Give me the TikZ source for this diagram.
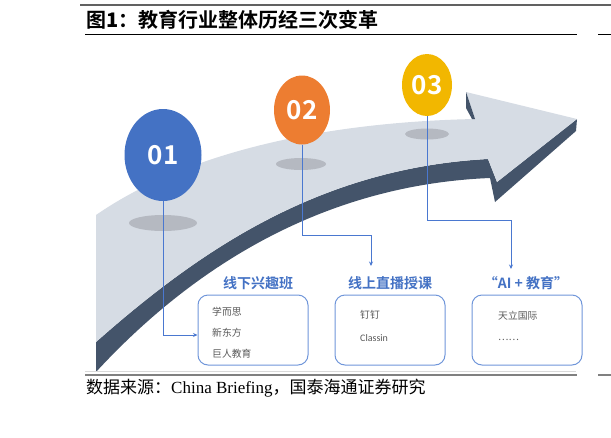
\documentclass[tikz,border=0pt]{standalone}
\usepackage{fontspec}
\setmainfont{Liberation Serif}
\newfontfamily\cjk{Noto Sans CJK SC}
\newfontfamily\cjkb{Noto Sans CJK SC Bold}
\newfontfamily\carlito{Carlito}
\usetikzlibrary{shapes.geometric,arrows.meta}
\definecolor{face}{HTML}{D6DCE4}
\definecolor{side}{HTML}{44546A}
\definecolor{dropgray}{HTML}{B5B9C1}
\definecolor{blueone}{HTML}{4472C4}
\definecolor{orangetwo}{HTML}{ED7D31}
\definecolor{goldthree}{HTML}{F2B700}
\definecolor{linkblue}{HTML}{4A78D0}
\definecolor{cardblue}{HTML}{7096DA}
\definecolor{itemgray}{HTML}{595959}
\tikzset{
	stage/.style={ellipse, inner sep=0pt, text=white, font=\cjkb\fontsize{26}{26}\selectfont},
	head/.style={text=blueone, inner sep=0pt, font=\cjkb\fontsize{14}{14}\selectfont},
	card/.style={draw=cardblue, line width=1pt, fill=white, rounded corners=10pt, minimum width=110pt, minimum height=70pt},
	item/.style={anchor=west, inner sep=0pt, text=itemgray, font=\cjk\fontsize{9.8}{9.8}\selectfont},
	link/.style={draw=linkblue, line width=0.8pt, -{Stealth[length=4.5pt,width=4pt]}}
}
\begin{document}
\begin{tikzpicture}[x=1pt,y=-1pt]
	\useasboundingbox (0,0) rectangle (611,437);
	
	\draw[line width=2pt, color=black!62] (80,5) -- (611,5);
	\node[anchor=base west, inner sep=0pt] (title) at (86,27)
		{\cjkb\fontsize{20}{20}\selectfont 图{\bfseries 1}：教育行业整体历经三次变革};
	\draw[line width=1pt] (85,34) -- (577,34);
	\draw[line width=1pt] (598,34) -- (611,34);
	
	\begin{scope}
		\clip (96,40) rectangle (611,371);
		\fill[side] (96,342) .. controls (200,250) and (320,168) .. (488,159) -- (497,182)
			-- (577,119) -- (576,131) -- (495,202) -- (490,178)
			.. controls (320,185) and (190,270) .. (96,372) -- cycle;
		\fill[face] (96,215) .. controls (190,150) and (330,122) .. (475,119) -- (466,92)
			-- (577,119) -- (497,182) -- (488,159)
			.. controls (320,168) and (200,250) .. (96,342) -- cycle;
		\fill[side] (466,92) -- (466,108) -- (472,119) -- (475,119) -- cycle;
	\end{scope}
	
	\fill[dropgray] (163,223) ellipse [x radius=34pt, y radius=8pt];
	\fill[dropgray] (301,164) ellipse [x radius=25pt, y radius=6pt];
	\fill[dropgray] (427,134) ellipse [x radius=22pt, y radius=5.5pt];
	
	\node[stage, fill=blueone, minimum width=77pt, minimum height=92pt] (c1) at (163,155) {01};
	\node[stage, fill=orangetwo, minimum width=56pt, minimum height=69pt] (c2) at (302,110) {02};
	\node[stage, fill=goldthree, minimum width=50pt, minimum height=62pt] (c3) at (427,85) {03};
	
	\node[head] (h1) at (258,283) {线下兴趣班};
	\node[head] (h2) at (390,283) {线上直播授课};
	\node[head] (h3) at (526,283) {“AI + 教育”};
	
	\node[card] (b1) at (253,330) {};
	\node[card] (b2) at (390,330) {};
	\node[card] (b3) at (527,330) {};
	
	\node[item] (b1a) at (212,312) {学而思};
	\node[item] (b1b) at (212,333) {新东方};
	\node[item] (b1c) at (212,354) {巨人教育};
	\node[item] (b2a) at (360,315) {钉钉};
	\node[item, font=\carlito\fontsize{10}{10}\selectfont] (b2b) at (360,338) {Classin};
	\node[item] (b3a) at (498,316) {天立国际};
	\node[item] (b3b) at (498,340) {……};
	
	\coordinate (k2) at (371,235);
	\coordinate (e2) at (371,266);
	\coordinate (k3) at (511,220);
	\coordinate (e3) at (511,269);
	
	\path[link] (c1.south) |- ([yshift=-5pt]b1.west);
	\path[link] (c2.south) |- (k2) -- (e2);
	\path[link] (c3.south) |- (k3) -- (e3);
	
	\draw[line width=0.6pt, color=black!15] (85,371) -- (576,371);
	\draw[line width=1.2pt, color=black!50] (85,375) -- (577,375);
	\draw[line width=1.2pt, color=black!50] (598,375) -- (611,375);
	\node[anchor=base west, inner sep=0pt] (source) at (86,393)
		{\fontsize{17}{17}\selectfont{\cjk 数据来源：}China Briefing{\cjk ，国泰海通证券研究}};
\end{tikzpicture}
\end{document}
